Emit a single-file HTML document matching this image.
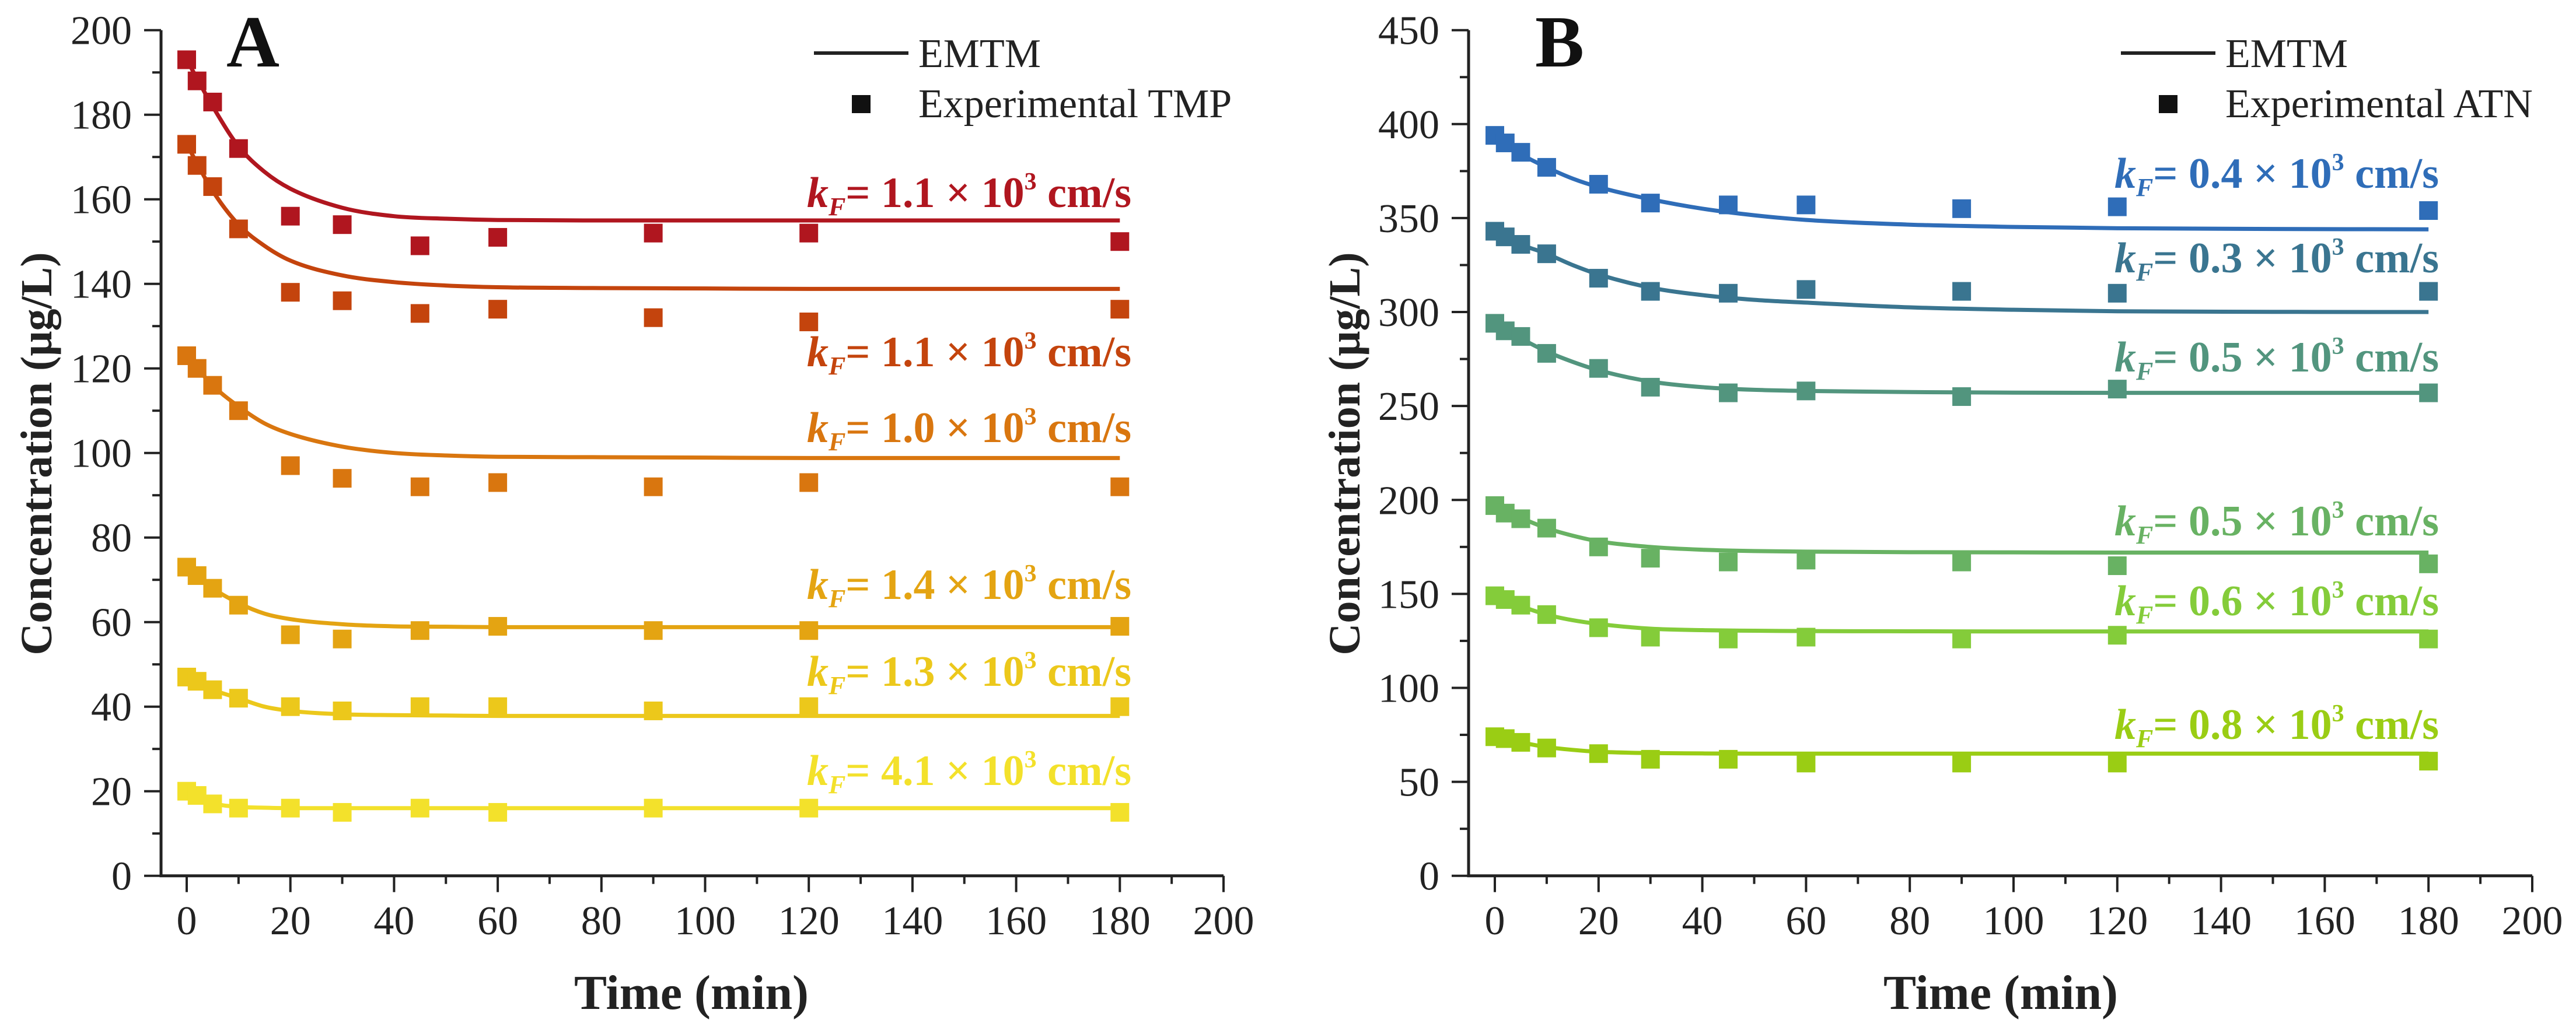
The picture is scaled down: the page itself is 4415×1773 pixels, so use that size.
<!DOCTYPE html>
<html><head><meta charset="utf-8">
<style>
html,body{margin:0;padding:0;background:#fff;}
svg{display:block;font-family:"Liberation Serif","Times New Roman",serif;}
svg text{font-family:"Liberation Serif","Times New Roman",serif;}
</style></head>
<body>
<svg id="chart" width="4415" height="1773" viewBox="0 0 4415 1773" xmlns="http://www.w3.org/2000/svg" font-family="Liberation Serif, serif"></svg>
<script>
// ---- shared data ----
const expTimes = [0,2,5,10,20,30,45,60,90,120,180];
const curveTimes = [0,5,10,15,20,30,40,50,60,80,100,120,150,180];
const xTicks = [0,20,40,60,80,100,120,140,160,180,200];

// ---- Panel A data (TMP) ----
const aYTicks = [0,20,40,60,80,100,120,140,160,180,200];
const aColors = ['#b0161f','#c4440d','#d9760f','#e4a412','#ecc81b','#f3e12b'];
const aLabels = ['1.1','1.1','1.0','1.4','1.3','4.1'];
const aExp1 = [193,188,183,172,156,154,149,151,152,152,150];
const aExp2 = [173,168,163,153,138,136,133,134,132,131,134];
const aExp3 = [123,120,116,110,97,94,92,93,92,93,92];
const aExp4 = [73,71,68,64,57,56,58,59,58,58,59];
const aExp5 = [47,46,44,42,40,39,40,40,39,40,40];
const aExp6 = [20,19,17,16,16,15,16,15,16,16,15];
const aFit1 = [193,182,172.5,166.5,162.5,158,156,155.4,155.1,155,155,155,155,155];
const aFit2 = [173,162,154,149,145.5,142,140.4,139.6,139.2,139,138.9,138.8,138.8,138.8];
const aFit3 = [123,116,111,107,104.5,101.5,100,99.4,99.1,99,98.9,98.8,98.8,98.8];
const aFit4 = [73,68,64.5,62,60.7,59.5,59,58.9,58.8,58.8,58.8,58.8,58.8,58.8];
const aFit5 = [47,44,42,40,39,38.2,38,37.9,37.8,37.8,37.8,37.8,37.8,37.8];
const aFit6 = [20,17.2,16.3,16.1,16,16,16,16,16,16,16,16,16,16];
const aLabelVals = [355,628,758,1027,1176,1346]; // label baselines (px)

// ---- Panel B data (ATN) ----
const bYTicks = [0,50,100,150,200,250,300,350,400,450];
const bColors = ['#2f6db8','#3a7590','#52957e','#68b263','#84cc3a','#9acd14'];
const bLabels = ['0.4','0.3','0.5','0.5','0.6','0.8'];
const bExp1 = [394,390,385,377,368,358,357,357,355,356,354];
const bExp2 = [343,340,336,331,318,311,310,312,311,310,311];
const bExp3 = [294,290,287,278,270,260,257,258,255,259,257];
const bExp4 = [197,193,190,185,175,169,167,168,167,165,166];
const bExp5 = [149,147,144,139,132,127,126,127,126,128,126];
const bExp6 = [74,73,71,68,65,62,62,60,60,60,61];
const bFit1 = [393,384,377,371,366.5,360,355,351.5,349,346.5,345.3,344.6,344.2,344];
const bFit2 = [343,336,331,325,320,313,309,306.5,305,302.5,301.2,300.4,300.1,300];
const bFit3 = [294,286,279,273.5,269,263,260,258.6,258,257.4,257.1,257,257,257];
const bFit4 = [197,190.5,185,181,178,175,173.5,172.8,172.5,172.2,172.1,172,172,172];
const bFit5 = [149,143.5,139,136,134,131.5,130.7,130.4,130.2,130.1,130,130,130,130];
const bFit6 = [74,71,68.5,67,66,65.3,65.1,65,65,65,65,65,65,65];

const NS = 'http://www.w3.org/2000/svg';
const FONT = 'Liberation Serif, Times New Roman, serif';
const svg = document.getElementById('chart');
function mk(tag, attrs, parent){
  const e = document.createElementNS(NS, tag);
  for (const k in attrs) e.setAttribute(k, attrs[k]);
  if (tag === 'text') e.setAttribute('font-family', FONT);
  (parent||svg).appendChild(e);
  return e;
}

function monotonePath(xs, ys){
  const n = xs.length, d = [], m = [];
  for (let i=0;i<n-1;i++) d.push((ys[i+1]-ys[i])/(xs[i+1]-xs[i]));
  m[0]=d[0]; m[n-1]=d[n-2];
  for (let i=1;i<n-1;i++){ m[i] = (d[i-1]*d[i] <= 0) ? 0 : (d[i-1]+d[i])/2; }
  for (let i=0;i<n-1;i++){
    if (d[i]===0){ m[i]=0; m[i+1]=0; continue; }
    const a=m[i]/d[i], b=m[i+1]/d[i], s=a*a+b*b;
    if (s>9){ const t=3/Math.sqrt(s); m[i]=t*a*d[i]; m[i+1]=t*b*d[i]; }
  }
  let p = 'M'+xs[0]+','+ys[0];
  for (let i=0;i<n-1;i++){
    const h=(xs[i+1]-xs[i])/3;
    p += ' C'+(xs[i]+h)+','+(ys[i]+m[i]*h)+' '+(xs[i+1]-h)+','+(ys[i+1]-m[i+1]*h)+' '+xs[i+1]+','+ys[i+1];
  }
  return p;
}

function drawPanel(cfg){
  const g = mk('g', {});
  
  
  const x0px = cfg.x0, x200px = cfg.x200, yTop = 51.7, yBot = 1501.7;
  const yMax = cfg.yTicks[cfg.yTicks.length-1];
  const xs = t => x0px + (x200px - x0px) * t / 200;
  const ys = v => yBot - (yBot - yTop) * v / yMax;

  const ax = mk('path', {d:'M'+cfg.axisX+','+yTop+' L'+cfg.axisX+','+yBot+' L'+x200px+','+yBot, fill:'none', stroke:'#222', 'stroke-width':5}, g);
  
  

  for (let i=0;i<xTicks.length;i++){
    const t = xTicks[i], px = xs(t);
    const tk = mk('line', {x1:px, y1:yBot, x2:px, y2:yBot+28, stroke:'#222','stroke-width':4}, g);
    
    
    if (i < xTicks.length-1){
      const mt = mk('line', {x1:xs(t+10), y1:yBot, x2:xs(t+10), y2:yBot+14, stroke:'#222','stroke-width':4}, g);
      
      
    }
    const lb = mk('text', {x:px, y:1602, 'text-anchor':'middle', 'font-size':70, fill:'#222'}, g);
    lb.textContent = t;
    
    
  }
  const step = cfg.yTicks[1]-cfg.yTicks[0];
  for (let i=0;i<cfg.yTicks.length;i++){
    const v = cfg.yTicks[i], py = ys(v);
    const tk = mk('line', {x1:cfg.axisX-29, y1:py, x2:cfg.axisX, y2:py, stroke:'#222','stroke-width':4}, g);
    
    
    if (i < cfg.yTicks.length-1){
      const my = ys(v+step/2);
      const mt = mk('line', {x1:cfg.axisX-15, y1:my, x2:cfg.axisX, y2:my, stroke:'#222','stroke-width':4}, g);
      
      
    }
    const lb = mk('text', {x:cfg.axisX-50, y:py+24, 'text-anchor':'end', 'font-size':70, fill:'#222'}, g);
    lb.textContent = v;
    
    
  }
  const yt = mk('text', {x:0, y:0, transform:'translate('+cfg.yTitleX+',778) rotate(-90)', 'text-anchor':'middle', 'font-size':76, 'font-weight':'bold', fill:'#222'}, g);
  yt.textContent = 'Concentration (μg/L)';
  
  
  const xt = mk('text', {x:cfg.xTitleX, y:1730, 'text-anchor':'middle', 'font-size':84, 'font-weight':'bold', fill:'#222'}, g);
  xt.textContent = 'Time (min)';
  
  
  const pl = mk('text', {x:cfg.letterX, y:114, 'font-size':126, 'font-weight':'bold', fill:'#111'}, g);
  pl.textContent = cfg.letter;
  
  

  const lc = cfg.legendCX;
  const ll = mk('line', {x1:lc-81, y1:91, x2:lc+81, y2:91, stroke:'#222','stroke-width':6}, g);
  
  
  const lt1 = mk('text', {x:lc+98, y:115, 'font-size':70, fill:'#222'}, g);
  lt1.textContent = 'EMTM';
  
  
  const lm = mk('rect', {x:lc-16, y:163, width:32, height:31, fill:'#111'}, g);
  
  
  const lt2 = mk('text', {x:lc+98, y:201, 'font-size':70, fill:'#222'}, g);
  lt2.textContent = cfg.legendText;
  
  

  for (let s=0;s<cfg.fits.length;s++){
    const col = cfg.colors[s];
    const path = mk('path', {d:monotonePath(curveTimes.map(xs), cfg.fits[s].map(ys)), fill:'none', stroke:col, 'stroke-width':7, 'stroke-linecap':'butt'}, g);
    
    
    for (let i=0;i<expTimes.length;i++){
      const r = mk('rect', {x:xs(expTimes[i])-16, y:ys(cfg.exps[s][i])-16, width:32, height:32, fill:col}, g);
      
      
    }
    const t = mk('text', {x:cfg.labelRight, y:cfg.labelY[s], 'text-anchor':'end', 'font-size':74, 'font-weight':'bold', fill:col}, g);
    
    
    t.innerHTML = '<tspan font-style="italic">k</tspan><tspan font-style="italic" font-size="44" dy="14">F</tspan><tspan dy="-14">= ' + cfg.labels[s] + ' × 10</tspan><tspan font-size="42" dy="-30">3</tspan><tspan dy="30"> cm/s</tspan>';
  }
}

drawPanel({id:'panel-a', letter:'A', axisX:276, x0:320, x200:2097, yTicks:aYTicks,
  yTitleX:88, xTitleX:1185, letterX:388, legendCX:1476, legendText:'Experimental TMP',
  colors:aColors, labels:aLabels, labelRight:1939, labelY:aLabelVals,
  exps:[aExp1,aExp2,aExp3,aExp4,aExp5,aExp6], fits:[aFit1,aFit2,aFit3,aFit4,aFit5,aFit6]});
drawPanel({id:'panel-b', letter:'B', axisX:2517, x0:2562, x200:4340, yTicks:bYTicks,
  yTitleX:2330, xTitleX:3429, letterX:2631, legendCX:3716, legendText:'Experimental ATN',
  colors:bColors, labels:bLabels, labelRight:4180, labelY:[322,467,637,918,1055,1267],
  exps:[bExp1,bExp2,bExp3,bExp4,bExp5,bExp6], fits:[bFit1,bFit2,bFit3,bFit4,bFit5,bFit6]});
</script>
</body></html>
